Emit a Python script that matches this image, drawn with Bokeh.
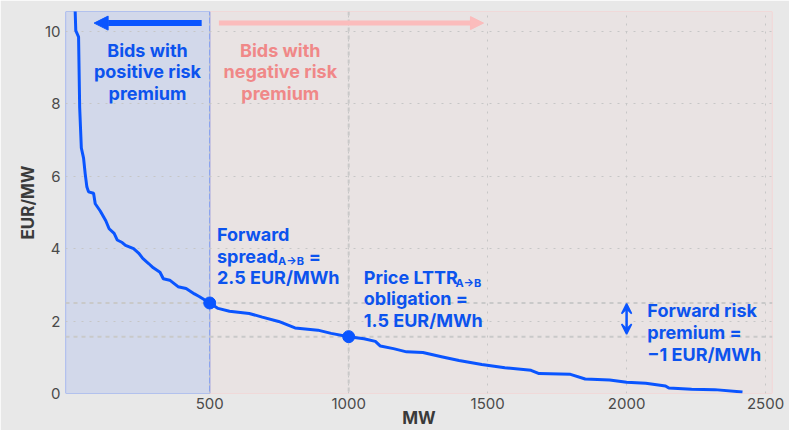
from bokeh.plotting import figure
from bokeh.models import Range1d, FixedTicker, Span, Arrow, NormalHead, VeeHead, ColumnDataSource
from bokeh.core.properties import value
from bokeh.embed import file_html
from bokeh.resources import INLINE

# ---- data ----
mw = [14, 18, 28, 32, 38, 46, 52, 58, 64, 82, 88, 106, 126, 138, 156, 167, 185, 197, 226, 244,
      259, 280, 297, 321, 333, 356, 386, 415, 445, 462, 500, 530, 571, 642, 689, 748, 807, 889,
      937, 1000, 1055, 1096, 1114, 1161, 1208, 1267, 1338, 1397, 1479, 1562, 1656, 1685, 1798,
      1851, 1939, 2000, 2069, 2140, 2152, 2234, 2317, 2417]
price = [11.0, 10.02, 9.85, 7.9, 6.78, 6.5, 6.06, 5.7, 5.57, 5.53, 5.24, 5.04, 4.77, 4.55, 4.42,
         4.24, 4.17, 4.09, 4.0, 3.88, 3.73, 3.59, 3.47, 3.35, 3.17, 3.13, 2.95, 2.9, 2.75, 2.68,
         2.5, 2.35, 2.27, 2.21, 2.11, 1.99, 1.81, 1.75, 1.66, 1.57, 1.51, 1.44, 1.31, 1.24, 1.15,
         1.13, 1.01, 0.91, 0.80, 0.71, 0.64, 0.55, 0.53, 0.40, 0.37, 0.31, 0.28, 0.21, 0.15, 0.12,
         0.107, 0.04]

key_mw = [500, 1000]          # forward spread point, LTTR price point
key_price = [2.5, 1.57]

x_ticks = [500, 1000, 1500, 2000, 2500]
y_ticks = [0, 2, 4, 6, 8, 10]
X_MIN, X_MAX = -19, 2525
Y_MIN, Y_MAX = 0, 10.55

BLUE = "#0a55ff"
TEXT_BLUE = "#0c53ee"
PINK_TEXT = "#f08888"
PINK_ARROW = "#fbbcbc"
FONT = "Inter"

p = figure(width=789, height=430, x_range=Range1d(X_MIN, X_MAX), y_range=Range1d(Y_MIN, Y_MAX),
           output_backend="svg", toolbar_location=None,
           min_border_left=65, min_border_right=17, min_border_top=11, min_border_bottom=37)
p.background_fill_color = "#e9e4e4"
p.border_fill_color = "#e8e8e8"
p.outline_line_color = None

# regions
p.quad(left=[key_mw[0]], right=[X_MAX], bottom=[Y_MIN], top=[Y_MAX],
       fill_color="#e9e3e3", line_color="#f3c9c9", line_width=1.2, level="image")
p.quad(left=[X_MIN], right=[key_mw[0]], bottom=[Y_MIN], top=[Y_MAX],
       fill_color="#d2d8ea", line_color="#7f9cf0", line_width=1.2, level="image")

# axes
p.xaxis.ticker = FixedTicker(ticks=x_ticks)
p.yaxis.ticker = FixedTicker(ticks=y_ticks)
for ax in (p.xaxis[0], p.yaxis[0]):
    ax.axis_line_color = None
    ax.major_tick_line_color = None
    ax.minor_tick_line_color = None
    ax.major_tick_out = 0
    ax.major_tick_in = 0
    ax.major_label_text_font = FONT
    ax.major_label_text_font_size = "15px"
    ax.major_label_text_color = "#4a4a4a"
    ax.axis_label_text_font = FONT
    ax.axis_label_text_font_style = "bold"
    ax.axis_label_text_font_size = "17px"
    ax.axis_label_text_color = "#3a3a3a"
p.xaxis.major_label_standoff = 4
p.yaxis.major_label_standoff = 5
p.yaxis.axis_label = "EUR/MW"
p.yaxis.axis_label_standoff = 4
p.xaxis.axis_label = "MW"
p.xaxis.axis_label_standoff = -4

# grid
p.xgrid.ticker = FixedTicker(ticks=x_ticks)
p.ygrid.ticker = FixedTicker(ticks=y_ticks[1:])
for g in (p.xgrid[0], p.ygrid[0]):
    g.grid_line_color = "#c6c6c6"
    g.grid_line_dash = "2 6"
    g.grid_line_width = 1

# reference dashed lines
for loc, dim in ((key_price[0], "width"), (key_price[1], "width"), (key_mw[1], "height")):
    p.add_layout(Span(location=loc, dimension=dim, line_color="#c9c9c9", line_width=2,
                      line_dash="4 4", level="underlay"))

# curve and points
p.line(mw, price, line_color=BLUE, line_width=3)
p.scatter(key_mw, key_price, size=12, color=BLUE)

# top arrows
p.add_layout(Arrow(end=NormalHead(size=14, fill_color=BLUE, line_color=BLUE, line_width=1),
                   x_start=471, y_start=10.23, x_end=84, y_end=10.23,
                   line_color=BLUE, line_width=6))
p.add_layout(Arrow(end=NormalHead(size=13, fill_color=PINK_ARROW, line_color=PINK_ARROW, line_width=1),
                   x_start=533, y_start=10.23, x_end=1485, y_end=10.23,
                   line_color=PINK_ARROW, line_width=5))
# risk premium double arrow
p.add_layout(Arrow(start=VeeHead(size=10, fill_color=BLUE, line_color=BLUE, line_width=1.5),
                   end=VeeHead(size=10, fill_color=BLUE, line_color=BLUE, line_width=1.5),
                   x_start=2000, y_start=1.64, x_end=2000, y_end=2.48,
                   line_color=BLUE, line_width=2.5))


def add_text(xs, ys, texts, color, align="left", size="18px"):
    src = ColumnDataSource(dict(x=xs, y=ys, t=texts))
    p.text(x="x", y="y", text="t", source=src, text_color=color, text_font=value(FONT),
           text_font_style="bold", text_font_size=size, text_align=align,
           text_baseline="alphabetic")


add_text([276] * 3, [9.47, 8.88, 8.29], ["Bids with", "positive risk", "premium"], TEXT_BLUE, "center")
add_text([754] * 3, [9.47, 8.88, 8.29], ["Bids with", "negative risk", "premium"], PINK_TEXT, "center")

add_text([526, 526, 856, 526], [4.39, 3.79, 3.79, 3.2], ["Forward", "spread", "=", "2.5 EUR/MWh"], TEXT_BLUE)
add_text([745.6], [3.66], ["A→B"], TEXT_BLUE, size="11px")

add_text([1054.5] * 3, [3.2, 2.61, 2.02], ["Price LTTR", "obligation =", "1.5 EUR/MWh"], TEXT_BLUE)
add_text([1384], [3.06], ["A→B"], TEXT_BLUE, size="11px")

add_text([2074.6] * 3, [2.28, 1.69, 1.08], ["Forward risk", "premium =", "−1 EUR/MWh"], TEXT_BLUE)

open("out.html", "w").write(file_html(p, INLINE))
